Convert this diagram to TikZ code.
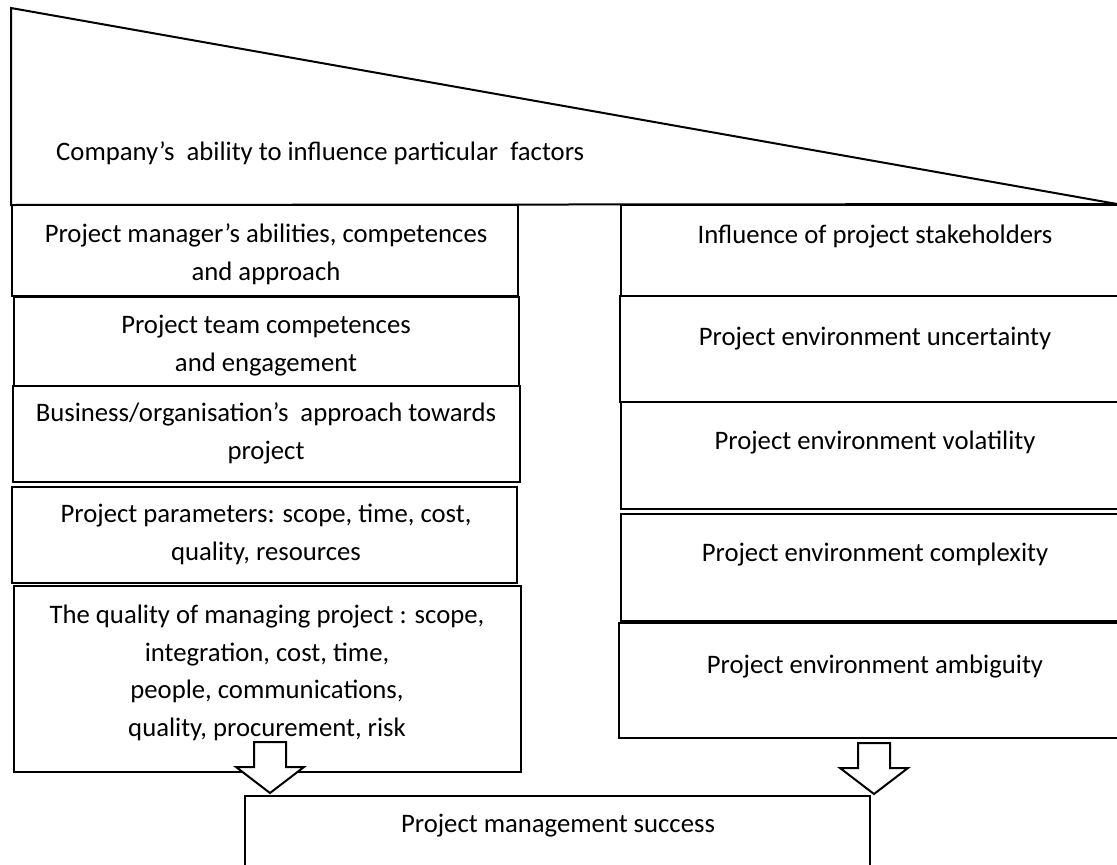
\documentclass[tikz,border=0pt]{standalone}
\usepackage{fontspec}
\setmainfont{Carlito}
\usetikzlibrary{fit,calc}
\begin{document}
\begin{tikzpicture}[x=1pt,y=-1pt,
  box/.style={draw, line width=2pt, inner sep=0pt},
  lbl/.style={font=\fontsize{26.7}{37.5}\selectfont, align=center, inner sep=0pt, anchor=base},
  blockarrow/.style={draw, fill=white, line width=2pt, line join=miter}]
\clip (0,0) rectangle (1117,865);
% triangle
\draw[line width=2pt, line join=miter] (11,8) -- (1117,204) -- (11,205) -- cycle;
\node[lbl, anchor=base west] (title) at (56,160) {Company’s \ ability to influence particular \ factors};
% left column
\node[box, fit={(12,205) (518,296)}] (L1) {};
\node[box, fit={(13.5,297) (519,386)}] (L2) {};
\node[box, fit={(13,386) (520,482)}] (L3) {};
\node[box, fit={(11.5,487) (517,583)}] (L4) {};
\node[box, fit={(14,586) (521,772)}] (L5) {};
\node[lbl] (tL1) at (266,280) {Project manager’s abilities, competences\\and approach};
\node[lbl] (tL2) at (266,371) {Project team competences\\and engagement};
\node[lbl] (tL3) at (266,459) {Business/organisation’s \ approach towards\\project};
\node[lbl] (tL4) at (266,560) {Project parameters: scope, time, cost,\\quality, resources};
\node[lbl] (tL5) at (267,736) {The quality of managing project : scope,\\integration, cost, time,\\people, communications,\\quality, procurement, risk};
% right column
\node[box, fit={(621,205) (1140,296)}] (R1) {};
\node[box, fit={(620,296) (1140,402)}] (R2) {};
\node[box, fit={(621,402) (1140,509)}] (R3) {};
\node[box, fit={(621,514) (1140,621)}] (R4) {};
\node[box, fit={(619,623) (1140,738)}] (R5) {};
\node[lbl] (tR1) at (875,243) {Influence of project stakeholders};
\node[lbl] (tR2) at (875,345) {Project environment uncertainty};
\node[lbl] (tR3) at (875,449) {Project environment volatility};
\node[lbl] (tR4) at (875,561) {Project environment complexity};
\node[lbl] (tR5) at (875,673) {Project environment ambiguity};
% result
\node[box, fit={(245,796) (870,900)}] (S) {};
\node[lbl] (tS) at (558,832) {Project management success};
% block arrows
\coordinate (a1) at (270,793);
\coordinate (a2) at (874,794);
\foreach \t in {a1,a2}{
  \draw[blockarrow] ($(\t)+(-16,-51)$) -- ($(\t)+(16,-51)$) -- ($(\t)+(16,-26)$) -- ($(\t)+(34,-26)$)
    -- (\t) -- ($(\t)+(-34,-26)$) -- ($(\t)+(-16,-26)$) -- cycle;
}
\end{tikzpicture}
\end{document}
